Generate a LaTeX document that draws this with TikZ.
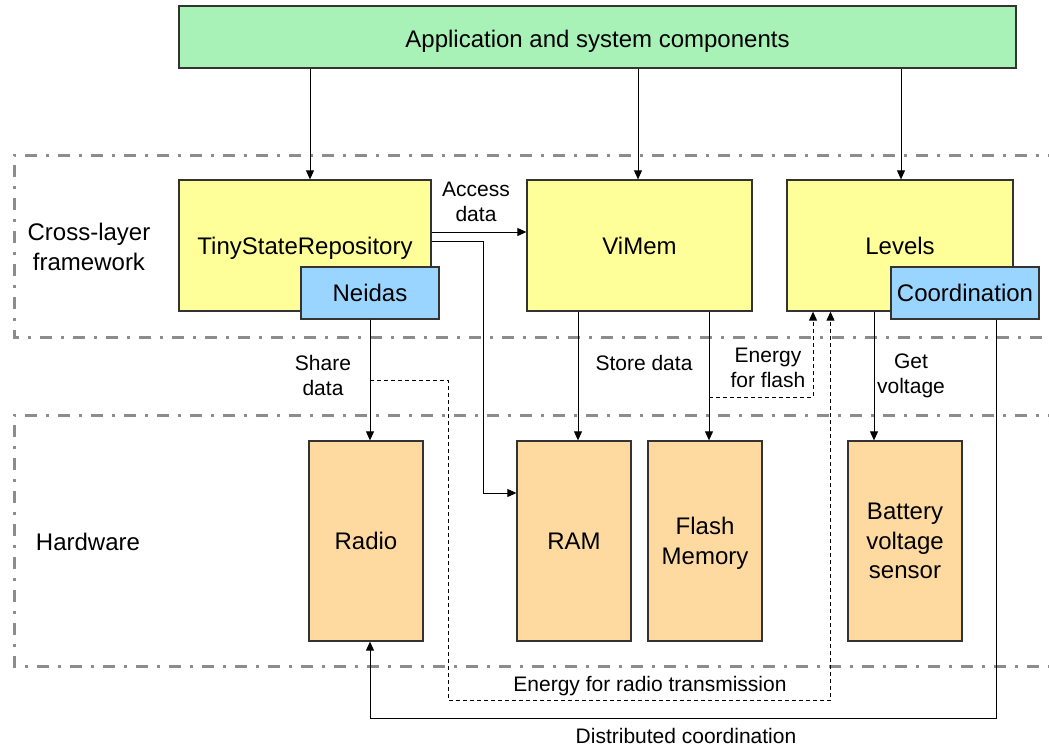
\documentclass[tikz,border=0pt]{standalone}
\usepackage{fontspec}
\setmainfont{Liberation Sans}
\usetikzlibrary{arrows.meta,calc}
\definecolor{appgreen}{HTML}{A8F2B8}
\definecolor{boxyellow}{HTML}{FFFF99}
\definecolor{boxblue}{HTML}{99D5FF}
\definecolor{hworange}{HTML}{FFDAA0}
\definecolor{framegray}{HTML}{8C8C8C}
\definecolor{edgegray}{HTML}{333333}
\begin{document}
\begin{tikzpicture}[x=1pt,y=-1pt,
  box/.style={draw=edgegray,line width=1.3pt,inner sep=0pt,align=center,
    text depth=0pt,font=\fontsize{24}{29.5}\selectfont},
  appbox/.style={box,fill=appgreen,text height=21pt},
  swbox/.style={box,fill=boxyellow,minimum width=#1,minimum height=131pt},
  subbox/.style={box,fill=boxblue,minimum height=52pt,minimum width=#1},
  hwbox/.style={box,fill=hworange,minimum width=114pt,minimum height=200pt},
  lbl/.style={align=center,inner sep=0pt,font=\fontsize{21}{25}\selectfont},
  layerlbl/.style={align=center,inner sep=0pt,font=\fontsize{24}{30}\selectfont},
  conn/.style={line width=0.9pt,-{Triangle[length=9pt,width=8pt]}},
  dconn/.style={conn,dash pattern=on 4pt off 3pt},
  framedash/.style={draw=framegray,line width=3pt,
    dash pattern=on 12pt off 9pt on 3pt off 9pt}]

\useasboundingbox (0,0) rectangle (1049,747);

% layer frames, open to the right
\draw[framedash] (1060,155) -- (14,155) -- (14,337) -- (1060,337);
\draw[framedash] (1060,415) -- (14,415) -- (14,666) -- (1060,666);

\node[layerlbl] (lcross) at (89,247) {Cross-layer\\framework};
\node[layerlbl] (lhw) at (88,542) {Hardware};

% application layer
\node[appbox,minimum width=837pt,minimum height=62pt] (app) at (597.5,37)
  {Application and system components};

% cross-layer framework
\node[swbox=252pt] (tsr) at (305,245.5) {TinyStateRepository};
\node[subbox=138pt] (neidas) at (370,293) {Neidas};
\node[swbox=225pt] (vimem) at (639.5,245.5) {ViMem};
\node[swbox=226pt] (levels) at (900,245.5) {Levels};
\node[subbox=148pt] (coord) at (965,293) {Coordination};

% hardware
\node[hwbox] (radio) at (366,541) {Radio};
\node[hwbox] (ram) at (574,541) {RAM};
\node[hwbox] (flash) at (705,541) {Flash\\Memory};
\node[hwbox] (bat) at (905,541) {Battery\\voltage\\sensor};

% application to framework
\draw[conn] ([xshift=5pt]tsr.north |- app.south) -- ([xshift=5pt]tsr.north);
\draw[conn] ([xshift=-1.5pt]vimem.north |- app.south) -- ([xshift=-1.5pt]vimem.north);
\draw[conn] ([xshift=1pt]levels.north |- app.south) -- ([xshift=1pt]levels.north);

% framework internal
\draw[conn] ([yshift=13.5pt]tsr.east) -- ([yshift=13.5pt]tsr.east -| vimem.west);
\node[lbl] (laccess) at (476,202) {Access\\data};
\draw[conn] ([yshift=4.5pt]tsr.east) -- ++(52,0) |- ([yshift=48pt]ram.west);

% framework to hardware
\draw[conn] (neidas.south) -- (neidas.south |- radio.north);
\node[lbl] (lshare) at (323,375) {Share\\data};
\draw[conn] ([xshift=4pt]ram.north |- vimem.south) -- ([xshift=4pt]ram.north);
\node[lbl] (lstore) at (644,363) {Store data};
\draw[conn] ([xshift=4pt]flash.north |- vimem.south) -- ([xshift=4pt]flash.north);
\draw[conn] ([xshift=-31pt]bat.north |- levels.south) -- ([xshift=-31pt]bat.north);
\node[lbl] (lvolt) at (911,376) {Get\\voltage};

% energy accounting
\coordinate (eflash) at ([xshift=4pt]flash.north |- 0,397);
\draw[dconn] (eflash) -| ([xshift=-87pt]levels.south);
\node[lbl] (lflash) at (768,367.5) {Energy\\for flash};
\coordinate (eradio) at (neidas.south |- 0,380);
\coordinate (ebend) at (448,700);
\draw[dconn] (eradio) -| (ebend) -| ([xshift=-69.5pt]levels.south);
\node[lbl] (lradio) at (650,686) {Energy for radio transmission};

% distributed coordination
\coordinate (dbend) at (996,718);
\draw[conn] ([xshift=31pt]coord.south) -- (dbend) -| ([xshift=4pt]radio.south);
\node[lbl] (ldist) at (686,736) {Distributed coordination};
\end{tikzpicture}
\end{document}
